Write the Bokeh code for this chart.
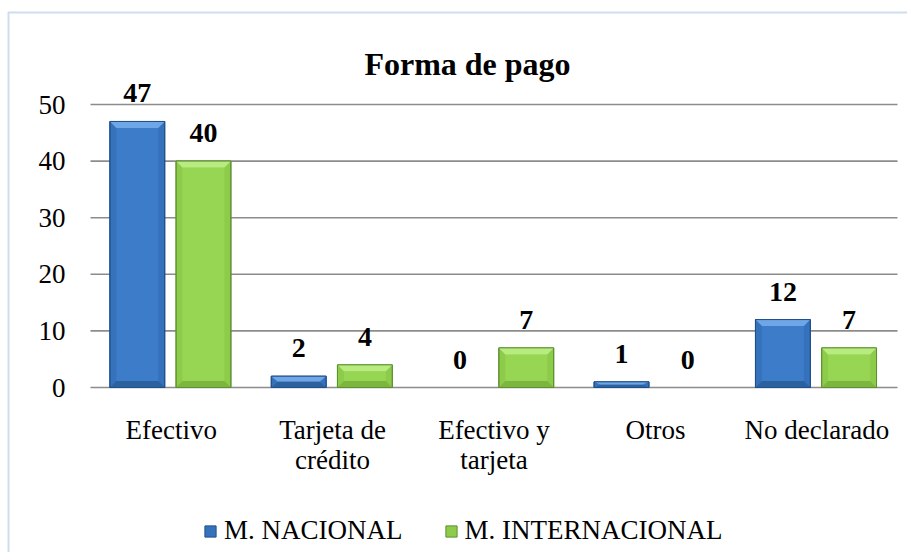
from bokeh.plotting import figure
from bokeh.models import (Range1d, LabelSet, Label, ColumnDataSource,
                          Legend, LegendItem, BoxAnnotation)
from bokeh.embed import file_html
from bokeh.resources import INLINE

# ---- data ----
categories = ["Efectivo", "Tarjeta de\ncrédito", "Efectivo y\ntarjeta", "Otros", "No declarado"]
nacional = [47, 2, 0, 1, 12]
internacional = [40, 4, 7, 0, 7]
series_names = ["M. NACIONAL", "M. INTERNACIONAL"]
y_ticks = [0, 10, 20, 30, 40, 50]
title_text = "Forma de pago"

FONT = "Liberation Serif"
W, H = 907, 552
# layout: pixel position of the plot area inside the canvas
PX_LEFT, PX_CAT = 90, 161.4      # left edge of category 0, pixels per category
PY_ZERO, PX_UNIT = 387, 5.66     # pixel row of value 0, pixels per value unit


def X(px):
    return (px - PX_LEFT) / PX_CAT


def Y(py):
    return (PY_ZERO - py) / PX_UNIT


p = figure(width=W, height=H, output_backend="svg", toolbar_location=None,
           x_range=Range1d(X(0), X(W)), y_range=Range1d(Y(H), Y(0)),
           min_border=0)
p.background_fill_color = "white"
p.border_fill_color = "white"
p.outline_line_color = None
p.axis.visible = False
p.grid.visible = False

# gridlines across the category area
n = len(categories)
p.segment(x0=[0] * len(y_ticks), x1=[n] * len(y_ticks), y0=y_ticks, y1=y_ticks,
          line_color="#8C8C8C", line_width=1.6)

# y tick labels
ysrc = ColumnDataSource(dict(x=[0] * len(y_ticks), y=y_ticks, t=[str(v) for v in y_ticks]))
p.add_layout(LabelSet(x="x", y="y", text="t", source=ysrc, x_offset=-25, text_align="right",
                      text_baseline="middle", text_font=FONT, text_font_size="27px",
                      text_color="black"))

# category labels (each line centred)
max_lines = max(len(c.split("\n")) for c in categories)
for li in range(max_lines):
    lines = [c.split("\n")[li] if li < len(c.split("\n")) else "" for c in categories]
    csrc = ColumnDataSource(dict(x=[i + 0.5 for i in range(n)], y=[0] * n, t=lines))
    p.add_layout(LabelSet(x="x", y="y", text="t", source=csrc, y_offset=-27 - 30 * li,
                          text_align="center", text_baseline="top", text_font=FONT,
                          text_font_size="27px", text_color="black"))

styles = [
    # main, side, light, dark, outline
    ("#3D7CC9", "#3672BC", "#6EA6E6", "#2B5C99", "#1F4F8A"),
    ("#96D652", "#8DCC4A", "#B8EC80", "#78B03C", "#5F9030"),
]
offsets = [-0.21, 0.20]
bw = 0.34
d = 0.04
renderers = []
for vals, off, (main, side, light, dark, outl) in zip([nacional, internacional], offsets, styles):
    xs = [i + 0.5 + off for i in range(len(vals)) if vals[i] > 0]
    vs = [v for v in vals if v > 0]
    x0 = [x - bw / 2 for x in xs]
    x1 = [x + bw / 2 for x in xs]
    t = [min(1.15, v / 2.0) for v in vs]
    base = p.quad(left=x0, right=x1, bottom=[0] * len(vs), top=vs,
                  fill_color=side, line_color=outl, line_width=1)
    renderers.append(base)
    inner_idx = [k for k in range(len(vs)) if vs[k] - 2 * t[k] > 0]
    p.quad(left=[x0[k] + d for k in inner_idx], right=[x1[k] - d for k in inner_idx],
           bottom=[t[k] for k in inner_idx], top=[vs[k] - t[k] for k in inner_idx],
           fill_color=main, line_color=None)
    p.patches(xs=[[x0[k], x1[k], x1[k] - d, x0[k] + d] for k in range(len(vs))],
              ys=[[vs[k], vs[k], vs[k] - t[k], vs[k] - t[k]] for k in range(len(vs))],
              fill_color=light, line_color=None)
    p.patches(xs=[[x0[k], x1[k], x1[k] - d, x0[k] + d] for k in range(len(vs))],
              ys=[[0, 0, t[k], t[k]] for k in range(len(vs))],
              fill_color=dark, line_color=None, fill_alpha=0.8)
    p.quad(left=x0, right=x1, bottom=[0] * len(vs), top=vs,
           fill_color=None, line_color=outl, line_width=1)

    src = ColumnDataSource(dict(x=[i + 0.5 + off for i in range(len(vals))], y=vals,
                                t=[str(v) for v in vals]))
    p.add_layout(LabelSet(x="x", y="y", text="t", source=src, text_align="center",
                          text_baseline="alphabetic", y_offset=19, text_font=FONT,
                          text_font_style="bold", text_font_size="28px", text_color="black"))

# title
p.add_layout(Label(x=X(467), y=Y(63), text=title_text, text_font=FONT,
                   text_font_style="bold", text_font_size="32px", text_align="center",
                   text_baseline="alphabetic", text_color="black"))

legend = Legend(items=[LegendItem(label=series_names[0], renderers=[renderers[0]]),
                       LegendItem(label=series_names[1], renderers=[renderers[1]])],
                location=(203, H - 546), orientation="horizontal",
                label_text_font=FONT, label_text_font_size="27px", label_text_color="black",
                glyph_width=14, glyph_height=14, label_standoff=7, spacing=41,
                padding=0, margin=0, border_line_color=None, background_fill_alpha=0)
p.add_layout(legend, "center")

# chart border
p.add_layout(BoxAnnotation(left=X(8), right=X(W + 40), bottom=Y(H + 40), top=Y(12),
                           fill_color=None, line_color="#5B8BD0", line_width=2))

open("out.html", "w").write(file_html(p, INLINE))
